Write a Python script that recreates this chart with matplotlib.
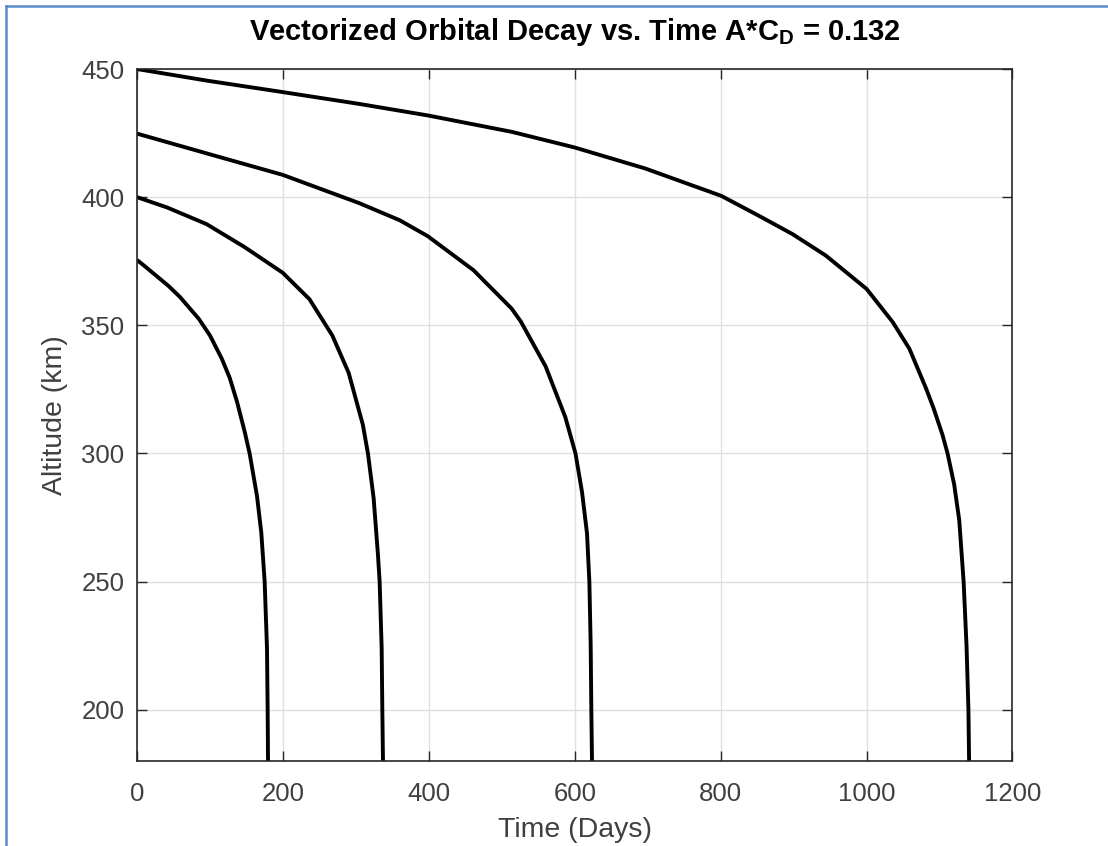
import numpy as np
import matplotlib.pyplot as plt
from matplotlib.lines import Line2D

# Altitude vs. time for four starting altitudes (days, km)
t_375 = [0, 13, 42.9, 59, 84.7, 100, 116.1, 127, 137, 147.5, 154.3, 164.4, 170.3, 174.9,
         178.1, 179, 179.5]
h_375 = [375.5, 372.5, 365.4, 361, 352.5, 346, 337, 329.5, 320.2, 308.5, 300, 283.4,
         269.1, 250, 224, 200, 180]

t_400 = [0, 41, 95.2, 147.5, 199.7, 236.3, 267.7, 290, 309.5, 316.5, 324.3, 330.2, 332.5,
         335.3, 336.2, 337.1]
h_400 = [400, 396, 389.5, 380.5, 370.5, 360.2, 346, 331.5, 311.2, 300, 282.5, 260.5, 250,
         224, 200, 180]

t_425 = [0, 95.2, 199.7, 304.3, 360, 398.4, 461.2, 513.5, 526, 560, 587, 601, 610,
         616.8, 620, 621.8, 622.7, 623.6]
h_425 = [424.8, 417.1, 408.7, 397.7, 391, 384.8, 371.5, 356.5, 351.5, 334, 314.2,
         300, 284.8, 268.7, 250, 225.3, 200, 180]

t_450 = [0, 95.2, 199.7, 304.3, 398.4, 513.5, 599.7, 696.5, 800.9, 852.6, 898.4, 944.2,
         1000, 1035.7, 1058.6, 1081.5, 1092, 1104, 1111, 1120, 1127, 1133, 1137, 1139.6,
         1140.5]
h_450 = [450, 445.5, 441, 436.4, 431.9, 425.5, 419.4, 411.2, 400.5, 392.7, 385.6, 377.2,
         364.2, 351.3, 340.9, 325.4, 317.5, 307.3, 300, 288, 274, 250, 225, 200, 180]

x_ticks = [0, 200, 400, 600, 800, 1000, 1200]
y_ticks = [200, 250, 300, 350, 400, 450]

plt.rcParams['font.family'] = ['Liberation Sans', 'DejaVu Sans']

fig = plt.figure(figsize=(11.08, 8.46), dpi=100)
ax = fig.add_axes([0.1237, 0.1005, 0.7901, 0.8179])

for t, h in [(t_375, h_375), (t_400, h_400), (t_425, h_425), (t_450, h_450)]:
    ax.plot(t, h, color='black', linewidth=2.8, solid_capstyle='butt',
            solid_joinstyle='round')

ax.set_xlim(0, 1200)
ax.set_ylim(180, 450)
ax.set_xticks(x_ticks)
ax.set_yticks(y_ticks)

ax.grid(True, color='#e0e0e0', linewidth=1.0)
ax.set_axisbelow(True)
ax.tick_params(direction='in', length=7, width=1, colors='#262626',
               labelcolor='#404040', labelsize=18.5, top=True, right=True)
ax.tick_params(axis='x', pad=15)
ax.tick_params(axis='y', pad=9)
for s in ax.spines.values():
    s.set_color('#262626')
    s.set_linewidth(1.2)

ax.set_title('Vectorized Orbital Decay vs. Time A*C$_\\mathregular{D}$ = 0.132',
             fontsize=21, fontweight='bold', color='black', pad=21)
ax.set_xlabel('Time (Days)', fontsize=20.5, color='#404040', labelpad=8)
ax.set_ylabel('Altitude (km)', fontsize=20.5, color='#404040', labelpad=10)

# frame lines along the left and top edges
fig.add_artist(Line2D([6 / 1108, 6 / 1108], [0, 1 - 6 / 846], transform=fig.transFigure,
                      color='#5b8bc9', linewidth=1.8))
fig.add_artist(Line2D([6 / 1108, 1], [1 - 6 / 846, 1 - 6 / 846], transform=fig.transFigure,
                      color='#5b8bc9', linewidth=1.8))

fig.savefig('out.png', dpi=100)
